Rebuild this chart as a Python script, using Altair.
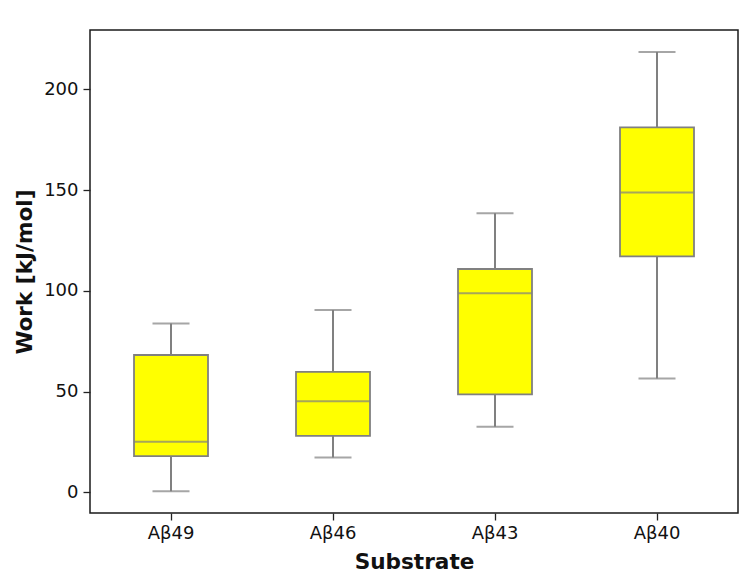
import altair as alt
import pandas as pd

categories = ["Aβ49", "Aβ46", "Aβ43", "Aβ40"]
whisker_low = [0.6, 17.3, 32.6, 56.6]
q1 = [18.0, 28.1, 48.7, 117.2]
median = [25.1, 45.3, 98.9, 148.9]
q3 = [68.2, 59.8, 110.9, 181.2]
whisker_high = [83.9, 90.5, 138.5, 218.6]
y_ticks = [0, 50, 100, 150, 200]

df = pd.DataFrame({
    "Substrate": categories,
    "lo": whisker_low,
    "q1": q1,
    "med": median,
    "q3": q3,
    "hi": whisker_high,
})

FONT = "DejaVu Sans"
GRAY = "#808080"
W, H = 648, 483
BOX = 74

x_enc = alt.X(
    "Substrate:N",
    sort=categories,
    scale=alt.Scale(paddingInner=0, paddingOuter=0),
    axis=alt.Axis(
        title="Substrate",
        labelAngle=0,
        labelFontSize=18,
        labelFont=FONT,
        labelColor="#111111",
        labelPadding=4,
        tickSize=7,
        tickWidth=1.3,
        tickColor="#222222",
        domain=False,
        titleFont=FONT,
        titleFontSize=21.6,
        titleFontWeight="bold",
        titleColor="#111111",
        titleX=W / 2,
        titleY=55,
        titleBaseline="alphabetic",
        titleAlign="center",
    ),
)

y_scale = alt.Scale(domain=[-10.2, 229.5], nice=False, zero=False)
y_axis = alt.Axis(
    title="Work [kJ/mol]",
    values=y_ticks,
    grid=False,
    domain=False,
    labelFontSize=18,
    labelFont=FONT,
    labelColor="#111111",
    labelPadding=5,
    tickSize=7,
    tickWidth=1.3,
    tickColor="#222222",
    titleFont=FONT,
    titleFontSize=21.6,
    titleFontWeight="bold",
    titleColor="#111111",
    titleAngle=-90,
    titleX=-65,
    titleY=H / 2,
    titleAlign="center",
    titleBaseline="middle",
)

base = alt.Chart(df)

whiskers = base.mark_rule(color=GRAY, strokeWidth=2).encode(
    x=x_enc,
    y=alt.Y("lo:Q", scale=y_scale, axis=y_axis),
    y2="hi:Q",
)

boxes = base.mark_bar(
    size=BOX, color="#ffff00", stroke=GRAY, strokeWidth=1.8
).encode(
    x=x_enc,
    y=alt.Y("q1:Q", scale=y_scale),
    y2="q3:Q",
)

med_ticks = base.mark_tick(
    size=BOX, thickness=2, color=GRAY, orient="horizontal"
).encode(x=x_enc, y=alt.Y("med:Q", scale=y_scale))

lo_caps = base.mark_tick(
    size=BOX / 2, thickness=2, color=GRAY, orient="horizontal"
).encode(x=x_enc, y=alt.Y("lo:Q", scale=y_scale))

hi_caps = base.mark_tick(
    size=BOX / 2, thickness=2, color=GRAY, orient="horizontal"
).encode(x=x_enc, y=alt.Y("hi:Q", scale=y_scale))

chart = (
    alt.layer(whiskers, boxes, med_ticks, lo_caps, hi_caps)
    .properties(
        width=W,
        height=H,
        autosize=alt.AutoSizeParams(type="none"),
        padding={"left": 82, "top": 22, "right": 10, "bottom": 60},
        background="white",
    )
    .configure_view(stroke="#1a1a1a", strokeWidth=1.5)
)

chart.save("out.html", embed_options={"renderer": "svg", "actions": False})
